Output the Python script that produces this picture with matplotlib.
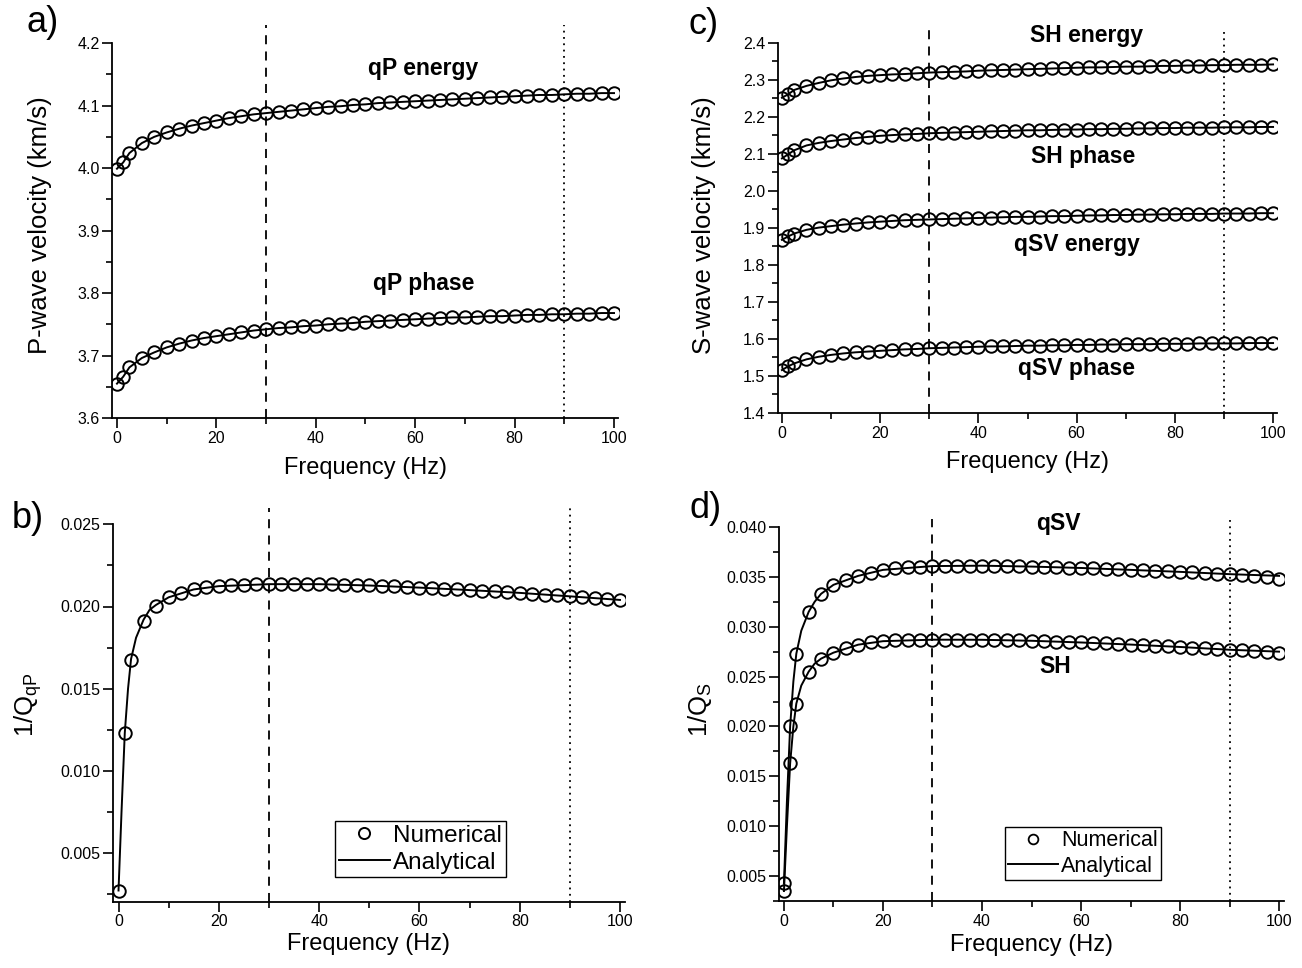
import matplotlib
matplotlib.use("Agg")
import matplotlib.pyplot as plt
from matplotlib.lines import Line2D
from matplotlib.ticker import MultipleLocator, FormatStrFormatter

plt.rcParams['font.family'] = 'Liberation Sans'
plt.rcParams['mathtext.fontset'] = 'custom'
plt.rcParams['mathtext.rm'] = 'Liberation Sans'
plt.rcParams['mathtext.it'] = 'Liberation Sans:italic'

# frecuencias de las muestras numericas (Hz)
freq = [0, 1.25, 2.5,
        5, 7.5, 10, 12.5,
        15, 17.5, 20, 22.5,
        25, 27.5, 30, 32.5,
        35, 37.5, 40, 42.5,
        45, 47.5, 50, 52.5,
        55, 57.5, 60, 62.5,
        65, 67.5, 70, 72.5,
        75, 77.5, 80, 82.5,
        85, 87.5, 90, 92.5,
        95, 97.5, 100]

# a) velocidades qP (km/s)
qp_energy = [3.999, 4.009, 4.024,
             4.040, 4.050, 4.057, 4.063,
             4.068, 4.072, 4.076, 4.080,
             4.083, 4.086, 4.088, 4.090,
             4.092, 4.094, 4.096, 4.098,
             4.099, 4.101, 4.102, 4.104,
             4.105, 4.106, 4.107, 4.108,
             4.109, 4.110, 4.111, 4.112,
             4.113, 4.114, 4.115, 4.116,
             4.117, 4.117, 4.118, 4.119,
             4.119, 4.120, 4.120]
qp_phase = [3.655, 3.666, 3.681,
            3.696, 3.705, 3.713, 3.719,
            3.724, 3.728, 3.731, 3.734,
            3.737, 3.740, 3.742, 3.744,
            3.745, 3.747, 3.748, 3.750,
            3.751, 3.752, 3.754, 3.755,
            3.756, 3.757, 3.758, 3.759,
            3.760, 3.761, 3.761, 3.762,
            3.763, 3.763, 3.764, 3.765,
            3.765, 3.766, 3.766, 3.767,
            3.767, 3.768, 3.768]

# b) atenuacion qP
invq_qp = [0.00270, 0.01230, 0.01675,
           0.01912, 0.02005, 0.02056, 0.02084,
           0.02104, 0.02116, 0.02124, 0.02130,
           0.02133, 0.02135, 0.02136, 0.02137,
           0.02137, 0.02137, 0.02136, 0.02135,
           0.02133, 0.02131, 0.02128, 0.02125,
           0.02122, 0.02119, 0.02115, 0.02112,
           0.02108, 0.02104, 0.02100, 0.02096,
           0.02092, 0.02088, 0.02083, 0.02078,
           0.02073, 0.02068, 0.02062, 0.02056,
           0.02051, 0.02046, 0.02040]

# c) velocidades S (km/s)
sh_energy = [2.252, 2.261, 2.273,
             2.284, 2.292, 2.299, 2.304,
             2.308, 2.311, 2.313, 2.315,
             2.316, 2.318, 2.320, 2.321,
             2.322, 2.323, 2.325, 2.326,
             2.327, 2.328, 2.329, 2.330,
             2.331, 2.332, 2.333, 2.334,
             2.334, 2.335, 2.336, 2.336,
             2.337, 2.338, 2.338, 2.339,
             2.339, 2.340, 2.340, 2.341,
             2.341, 2.341, 2.342]
sh_phase = [2.088, 2.099, 2.110,
            2.123, 2.130, 2.135, 2.139,
            2.143, 2.146, 2.149, 2.151,
            2.153, 2.154, 2.156, 2.157,
            2.158, 2.159, 2.160, 2.161,
            2.162, 2.163, 2.164, 2.164,
            2.165, 2.166, 2.166, 2.167,
            2.167, 2.168, 2.168, 2.169,
            2.169, 2.170, 2.170, 2.171,
            2.171, 2.171, 2.172, 2.172,
            2.172, 2.173, 2.173]
qsv_energy = [1.868, 1.877, 1.885,
              1.895, 1.901, 1.905, 1.909,
              1.912, 1.915, 1.917, 1.919,
              1.921, 1.922, 1.923, 1.924,
              1.925, 1.926, 1.927, 1.928,
              1.929, 1.930, 1.930, 1.931,
              1.932, 1.932, 1.933, 1.934,
              1.934, 1.935, 1.935, 1.936,
              1.936, 1.937, 1.937, 1.938,
              1.938, 1.938, 1.939, 1.939,
              1.939, 1.940, 1.940]
qsv_phase = [1.516, 1.526, 1.534,
             1.545, 1.552, 1.557, 1.561,
             1.564, 1.566, 1.568, 1.570,
             1.572, 1.573, 1.575, 1.576,
             1.577, 1.578, 1.579, 1.580,
             1.580, 1.581, 1.582, 1.582,
             1.583, 1.583, 1.584, 1.584,
             1.585, 1.585, 1.586, 1.586,
             1.586, 1.587, 1.587, 1.587,
             1.588, 1.588, 1.588, 1.588,
             1.589, 1.589, 1.589]

# d) atenuacion S
invq_qsv = [0.00430, 0.02000, 0.02730,
            0.03150, 0.03330, 0.03420, 0.03470,
            0.03510, 0.03543, 0.03570, 0.03587,
            0.03597, 0.03603, 0.03608, 0.03610,
            0.03612, 0.03612, 0.03612, 0.03610,
            0.03608, 0.03606, 0.03603, 0.03600,
            0.03597, 0.03593, 0.03589, 0.03585,
            0.03580, 0.03575, 0.03570, 0.03565,
            0.03560, 0.03555, 0.03550, 0.03545,
            0.03540, 0.03533, 0.03527, 0.03520,
            0.03512, 0.03502, 0.03480]
invq_sh = [0.00350, 0.01630, 0.02230,
           0.02550, 0.02680, 0.02740, 0.02790,
           0.02820, 0.02843, 0.02855, 0.02862,
           0.02866, 0.02869, 0.02870, 0.02871,
           0.02871, 0.02870, 0.02869, 0.02867,
           0.02865, 0.02862, 0.02859, 0.02855,
           0.02851, 0.02847, 0.02842, 0.02837,
           0.02832, 0.02827, 0.02821, 0.02815,
           0.02809, 0.02803, 0.02797, 0.02790,
           0.02783, 0.02776, 0.02769, 0.02762,
           0.02755, 0.02748, 0.02740]

# curvas analiticas de atenuacion (mas puntos al principio)
freq_an = [0, 0.6, 1.25, 1.9, 2.5, 3.5, 5, 6.2, 7.5, 10,
           15, 20, 30, 40, 50, 60, 70, 80, 90, 100]
an_qp = [0.0027, 0.0075, 0.0123, 0.0150, 0.0168, 0.0181, 0.0192, 0.0198, 0.0201, 0.02056,
         0.02104, 0.02124, 0.02136, 0.02136, 0.02128, 0.02115, 0.02100, 0.02083, 0.02062, 0.02040]
an_qsv = [0.0043, 0.0125, 0.0200, 0.0245, 0.0273, 0.0296, 0.0315, 0.0325, 0.0333, 0.0342,
          0.0351, 0.0357, 0.03608, 0.03612, 0.03603, 0.03589, 0.0357, 0.0355, 0.03527, 0.0351]
an_sh = [0.0035, 0.0100, 0.0163, 0.0200, 0.0223, 0.0241, 0.0255, 0.0263, 0.0268, 0.0274,
         0.0282, 0.02855, 0.0287, 0.02869, 0.02859, 0.02842, 0.02821, 0.02797, 0.02769, 0.0275]

W, H = 1302, 968
fig = plt.figure(figsize=(W / 100, H / 100), dpi=100)


def make_axes(l, t, r, b):
    return fig.add_axes([l / W, 1 - b / H, (r - l) / W, (b - t) / H])


def style(ax, xlim, ylim, ytop, ymaj, ymin, yfmt):
    ax.set_xlim(*xlim)
    ax.set_ylim(*ylim)
    ax.spines['top'].set_visible(False)
    ax.spines['right'].set_visible(False)
    ax.spines['left'].set_bounds(ylim[0], ytop)
    for s in ['left', 'bottom']:
        ax.spines[s].set_linewidth(1.3)
    ax.xaxis.set_major_locator(MultipleLocator(20))
    ax.xaxis.set_minor_locator(MultipleLocator(10))
    ax.yaxis.set_major_locator(MultipleLocator(ymaj))
    ax.yaxis.set_minor_locator(MultipleLocator(ymin))
    ax.yaxis.set_major_formatter(FormatStrFormatter(yfmt))
    ax.tick_params(which='major', direction='out', length=7, width=1.2, labelsize=11.5, pad=2)
    ax.tick_params(which='minor', direction='out', length=4, width=1.2)
    ax.axvline(30, color='k', lw=1.3, ls=(0, (5, 4)))
    ax.axvline(90, color='k', lw=1.3, ls=(0, (1, 2.5)))


def numerical(ax, y):
    ax.plot(freq, y, 'o', mfc='none', mec='k', ms=9, mew=1.4, zorder=3)


def analytical(ax, x, y):
    ax.plot(x, y, '-', color='k', lw=1.4, zorder=2)


def labels(ax, xlab, ylab, ylx, yly, xly):
    ax.set_xlabel(xlab, fontsize=17)
    ax.xaxis.set_label_coords(0.5, xly)
    ax.xaxis.label.set_va('center')
    ax.set_ylabel(ylab, fontsize=18.5)
    ax.yaxis.set_label_coords(ylx, yly)
    ax.yaxis.label.set_va('center')


bold = dict(ha='center', va='center', fontsize=16.5, fontweight='bold')

# a)
ax_a = make_axes(112, 25, 618.5, 418)
style(ax_a, (-1.0, 100.9), (3.6, 4.229), 4.2, 0.1, 0.05, '%.1f')
analytical(ax_a, freq, qp_energy)
analytical(ax_a, freq, qp_phase)
numerical(ax_a, qp_energy)
numerical(ax_a, qp_phase)
ax_a.text(61.6, 4.16, 'qP energy', **bold)
ax_a.text(61.8, 3.816, 'qP phase', **bold)
labels(ax_a, 'Frequency (Hz)', 'P-wave velocity (km/s)', -0.142, 0.49, -0.127)

# b)
ax_b = make_axes(113, 508, 624.5, 902)
style(ax_b, (-1.1, 100.9), (0.002, 0.026), 0.025, 0.005, 0.0025, '%.3f')
analytical(ax_b, freq_an, an_qp)
numerical(ax_b, invq_qp)
labels(ax_b, 'Frequency (Hz)', '1/Q$_{\\rm qP}$', -0.166, 0.5, -0.107)
hb = [Line2D([], [], ls='none', marker='o', mfc='none', mec='k', ms=8, mew=1.4),
      Line2D([], [], color='k', lw=1.4)]
ax_b.legend(hb, ['Numerical', 'Analytical'], loc='lower left', bbox_to_anchor=(0.434, 0.063),
            fontsize=17.5, frameon=True, fancybox=False, edgecolor='k', framealpha=1,
            borderpad=0.15, handlelength=2.1, handletextpad=0.15, labelspacing=0.2,
            borderaxespad=0)

# c)
ax_c = make_axes(778, 30, 1277, 413)
style(ax_c, (-0.8, 100.8), (1.4, 2.435), 2.4, 0.1, 0.05, '%.1f')
for y in [sh_energy, sh_phase, qsv_energy, qsv_phase]:
    analytical(ax_c, freq, y)
    numerical(ax_c, y)
ax_c.text(62.1, 2.419, 'SH energy', **bold)
ax_c.text(61.3, 2.092, 'SH phase', **bold)
ax_c.text(60.1, 1.854, 'qSV energy', **bold)
ax_c.text(59.9, 1.519, 'qSV phase', **bold)
labels(ax_c, 'Frequency (Hz)', 'S-wave velocity (km/s)', -0.148, 0.49, -0.128)

# d)
ax_d = make_axes(779, 519, 1284, 901)
style(ax_d, (-1.0, 101.0), (0.0025, 0.0408), 0.040, 0.005, 0.0025, '%.3f')
analytical(ax_d, freq_an, an_qsv)
analytical(ax_d, freq_an, an_sh)
numerical(ax_d, invq_qsv)
numerical(ax_d, invq_sh)
ax_d.text(55.4, 0.0403, 'qSV', **bold)
ax_d.text(54.7, 0.0260, 'SH', **bold)
labels(ax_d, 'Frequency (Hz)', '1/Q$_{\\rm S}$', -0.156, 0.5, -0.115)
hd = [Line2D([], [], ls='none', marker='o', mfc='none', mec='k', ms=7, mew=1.3),
      Line2D([], [], color='k', lw=1.4)]
ax_d.legend(hd, ['Numerical', 'Analytical'], loc='lower left', bbox_to_anchor=(0.4475, 0.055),
            fontsize=15.5, frameon=True, fancybox=False, edgecolor='k', framealpha=1,
            borderpad=0.15, handlelength=2.3, handletextpad=0.15, labelspacing=0.2,
            borderaxespad=0)

# letras de los paneles
for txt, x, y in [('a)', 43, 23), ('b)', 28, 518), ('c)', 704, 25), ('d)', 706, 509)]:
    fig.text(x / W, 1 - y / H, txt, ha='center', va='center', fontsize=26)

fig.savefig('out.png', dpi=100)
